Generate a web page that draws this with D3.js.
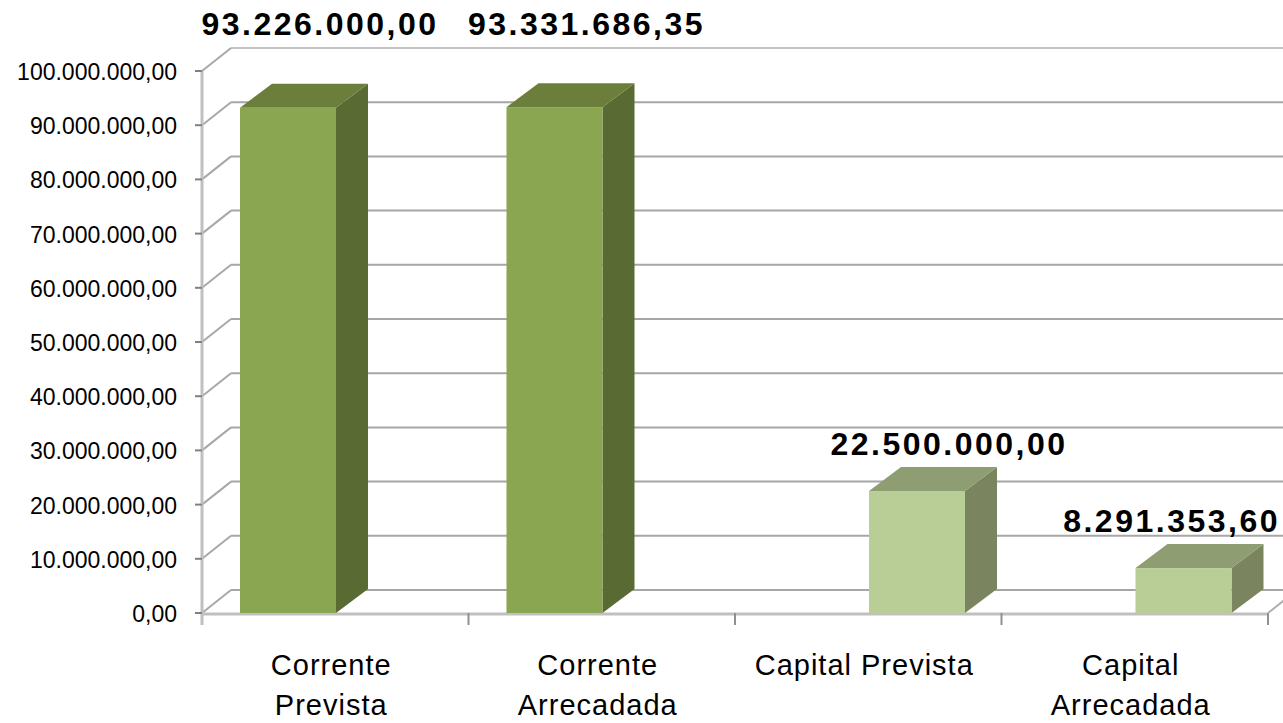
<!DOCTYPE html>
<html>
<head>
<meta charset="utf-8">
<script src="https://cdn.jsdelivr.net/npm/d3@7"></script>
<style>
  body { margin: 0; background: #fff; }
  text { font-family: "Liberation Sans", Arial, sans-serif; }
</style>
</head>
<body>
<div id="chart-area"></div>
<script>
// chart data
var categories = ["Corrente Prevista", "Corrente Arrecadada", "Capital Prevista", "Capital Arrecadada"];
var categoryLines = [["Corrente", "Prevista"], ["Corrente", "Arrecadada"], ["Capital Prevista"], ["Capital", "Arrecadada"]];
var seriesNames = ["Corrente", "Capital"];
var correnteValues = [93226000.00, 93331686.35, null, null];
var capitalValues = [null, null, 22500000.00, 8291353.60];
var yTickValues = [0, 10000000, 20000000, 30000000, 40000000, 50000000, 60000000, 70000000, 80000000, 90000000, 100000000];

var seriesColors = {
    Corrente: {front: "#8ba650", top: "#6b7e3b", side: "#5a6a33"},
    Capital:  {front: "#b9cd96", top: "#8e9d72", side: "#7a8560"}
};

var width = 1283, height = 723;
var wall = {dx: 29, dy: -23};   // depth of back wall
var box = {dx: 32, dy: -24};    // depth of each bar

var ptBR = d3.formatLocale({decimal: ",", thousands: ".", grouping: [3], currency: ["R$", ""]});
var fmt = ptBR.format(",.2f");

var svg = d3.select("#chart-area").append("svg")
    .attr("width", width)
    .attr("height", height);

var x = d3.scaleBand()
    .domain(categories)
    .range([202, 1268]);

var xs = d3.scaleBand()
    .domain(seriesNames)
    .range([38, 230]);

var y = d3.scaleLinear()
    .domain([0, 100000000])
    .range([613, 71]);

// back wall gridlines
svg.append("g")
    .selectAll("line")
    .data(yTickValues)
    .enter().append("line")
    .attr("x1", x.range()[0] + wall.dx)
    .attr("x2", width + 40)
    .attr("y1", function(d) { return y(d) + wall.dy; })
    .attr("y2", function(d) { return y(d) + wall.dy; })
    .style("stroke", function(d, i) { return i == yTickValues.length - 1 ? "#c4c4c4" : "#a6a6a6"; })
    .style("stroke-width", 2);

// left wall diagonals
svg.append("g")
    .selectAll("line")
    .data(yTickValues)
    .enter().append("line")
    .attr("x1", x.range()[0])
    .attr("x2", x.range()[0] + wall.dx)
    .attr("y1", function(d) { return y(d); })
    .attr("y2", function(d) { return y(d) + wall.dy; })
    .style("stroke", "#a8a8a8")
    .style("stroke-width", 2);

// floor right diagonal
svg.append("line")
    .attr("x1", x.range()[1]).attr("y1", y(0))
    .attr("x2", x.range()[1] + wall.dx).attr("y2", y(0) + wall.dy)
    .style("stroke", "#b0b0b0")
    .style("stroke-width", 2);

// front y axis line and floor edge
svg.append("line")
    .attr("x1", x.range()[0]).attr("x2", x.range()[0])
    .attr("y1", y(100000000)).attr("y2", y(0) + 12)
    .style("stroke", "#c0c0c0")
    .style("stroke-width", 3);

svg.append("line")
    .attr("x1", x.range()[0]).attr("x2", x.range()[1])
    .attr("y1", y(0) + 1).attr("y2", y(0) + 1)
    .style("stroke", "#c0c0c0")
    .style("stroke-width", 3);

// y ticks + labels
var yAxis = svg.append("g");
yAxis.selectAll("line")
    .data(yTickValues)
    .enter().append("line")
    .attr("x1", x.range()[0] - 7)
    .attr("x2", x.range()[0])
    .attr("y1", function(d) { return y(d); })
    .attr("y2", function(d) { return y(d); })
    .style("stroke", "#808080")
    .style("stroke-width", 2);

yAxis.selectAll("text")
    .data(yTickValues)
    .enter().append("text")
    .attr("x", 177)
    .attr("y", function(d) { return y(d) + 9; })
    .attr("text-anchor", "end")
    .style("font-size", "23px")
    .style("fill", "#000")
    .text(function(d) { return fmt(d); });

// category ticks
svg.append("g")
    .selectAll("line")
    .data(categories.slice(1).concat(["end"]))
    .enter().append("line")
    .attr("x1", function(d, i) { return x.range()[0] + x.step() * (i + 1); })
    .attr("x2", function(d, i) { return x.range()[0] + x.step() * (i + 1); })
    .attr("y1", y(0))
    .attr("y2", y(0) + 12)
    .style("stroke", "#909090")
    .style("stroke-width", 2);

// category labels
var catLabel = svg.append("g")
    .selectAll("text")
    .data(categories)
    .enter().append("text")
    .attr("text-anchor", "middle")
    .style("font-size", "29px")
    .style("letter-spacing", "1px")
    .style("fill", "#000");

catLabel.each(function(d, i) {
    var cx = x(d) + x.bandwidth() / 2 - 4;
    d3.select(this).selectAll("tspan")
        .data(categoryLines[i])
        .enter().append("tspan")
        .attr("x", cx)
        .attr("y", function(t, j) { return 675 + j * 40; })
        .text(function(t) { return t; });
});

// bars
var bars = [];
categories.forEach(function(c, i) {
    if (correnteValues[i] != null) bars.push({cat: c, series: "Corrente", value: correnteValues[i]});
    if (capitalValues[i] != null) bars.push({cat: c, series: "Capital", value: capitalValues[i]});
});

var barG = svg.append("g")
    .selectAll("g")
    .data(bars)
    .enter().append("g");

barG.each(function(d) {
    var g = d3.select(this);
    var x0 = x(d.cat) + xs(d.series);
    var w = xs.bandwidth();
    var yt = y(d.value), yb = y(0);
    var col = seriesColors[d.series];

    // side face
    g.append("polygon")
        .attr("points", [[x0 + w, yt], [x0 + w + box.dx, yt + box.dy], [x0 + w + box.dx, yb + box.dy], [x0 + w, yb]].join(" "))
        .style("fill", col.side);
    // top face
    g.append("polygon")
        .attr("points", [[x0, yt], [x0 + box.dx, yt + box.dy], [x0 + w + box.dx, yt + box.dy], [x0 + w, yt]].join(" "))
        .style("fill", col.top);
    // front face
    g.append("rect")
        .attr("x", x0)
        .attr("y", yt)
        .attr("width", w)
        .attr("height", yb - yt)
        .style("fill", col.front);
});

// value labels
var plotTop = y(100000000) + wall.dy;
var valueLabels = barG.append("text")
    .attr("x", function(d) { return x(d.cat) + xs(d.series) + xs.bandwidth() / 2 + 32; })
    .attr("y", function(d) {
        var ly = y(d.value) + box.dy - 12;
        if (ly - 26 < plotTop) ly = plotTop - 13;
        return ly;
    })
    .attr("text-anchor", "middle")
    .style("font-size", "32px")
    .style("font-weight", "bold")
    .style("letter-spacing", "2.5px")
    .style("fill", "#000")
    .text(function(d) { return fmt(d.value); });

// keep labels inside the picture
valueLabels.each(function() {
    var bb = this.getBBox();
    var over = bb.x + bb.width - (width - 3);
    if (over > 0) d3.select(this).attr("x", +d3.select(this).attr("x") - over);
});
</script>
</body>
</html>
